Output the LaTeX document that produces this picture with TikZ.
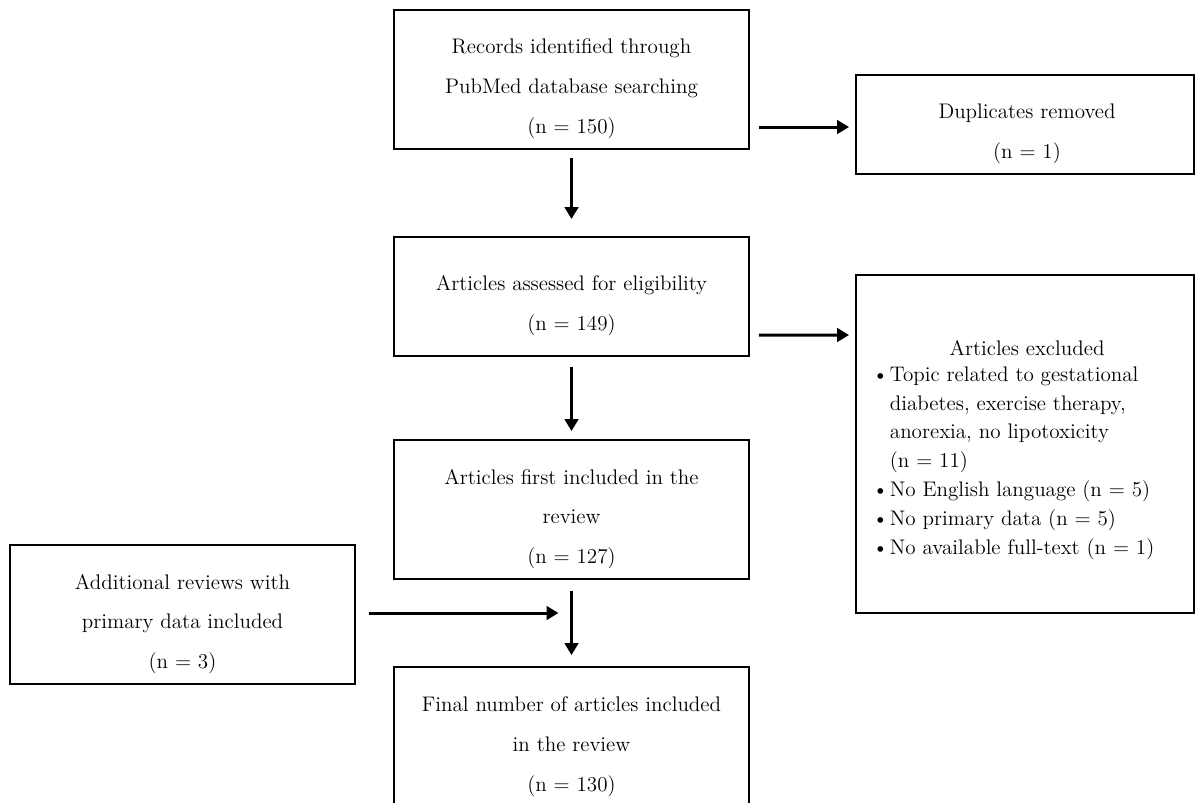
\documentclass[tikz,border=0pt]{standalone}
\usetikzlibrary{arrows.meta,calc}
\begin{document}
\begin{tikzpicture}[x=0.02cm,y=-0.02cm,
  box/.style={draw, line width=1.1pt, inner sep=0pt, minimum width=7.1cm, minimum height=2.78cm},
  txt/.style={align=center, font=\fontsize{12}{22.7}\selectfont, inner sep=0pt},
  arr/.style={line width=1.7pt, -{Triangle[length=0.24cm,width=0.27cm]}}]
\useasboundingbox (0,0) rectangle (1195,802);
\clip (0,0) rectangle (1195,802);
% boxes
\node[box] (b1) at (571.5,79.5) {};
\node[box, minimum width=6.76cm, minimum height=1.98cm] (dup) at (1025,124.5) {};
\node[box, minimum height=2.38cm] (b2) at (571.5,296.5) {};
\node[box, minimum width=6.76cm, minimum height=6.76cm] (excl) at (1025,444) {};
\node[box] (b3) at (571.5,509.5) {};
\node[box, minimum width=6.9cm] (add) at (182.5,614.5) {};
\node[box] (b4) at (571.5,736.5) {};
% texts
\node[txt] (t1) at (571.5,89) {Records identified through\\PubMed database searching\\(n = 150)};
\node[txt] (t2) at (1027,134) {Duplicates removed\\(n = 1)};
\node[txt] (t3) at (571.5,306) {Articles assessed for eligibility\\(n = 149)};
\node[txt] (t4) at (571.5,519) {Articles first included in the\\review\\(n = 127)};
\node[txt] (t5) at (182.5,624) {Additional reviews with\\primary data included\\(n = 3)};
\node[txt] (t6) at (571.5,747) {Final number of articles included\\in the review\\(n = 130)};
\node[txt] (t7) at (1027,348) {Articles excluded};
\node[align=left, inner sep=0pt, anchor=west, font=\fontsize{12}{16.4}\selectfont] (t8) at (872,463)
 {\makebox[10pt][l]{\textbullet}Topic related to gestational\\
  \hspace*{10pt}diabetes, exercise therapy,\\
  \hspace*{10pt}anorexia, no lipotoxicity\\
  \hspace*{10pt}(n = 11)\\
  \makebox[10pt][l]{\textbullet}No English language (n = 5)\\
  \makebox[10pt][l]{\textbullet}No primary data (n = 5)\\
  \makebox[10pt][l]{\textbullet}No available full-text (n = 1)};
% connectors
\coordinate (j) at (b3.south |- add.east);
\draw[arr] ($(b1.east |- dup.west)+(9,2.5)$) -- ($(dup.west)+(-6,2.5)$);
\draw[arr, shorten <=0.16cm, shorten >=0.34cm] (b1.south) -- (b2.north);
\draw[arr] ($(b2.east)+(9,38.5)$) -- ($(excl.west)+(-6,-109)$);
\draw[arr, shorten <=0.2cm, shorten >=0.16cm] (b2.south) -- (b3.north);
\draw[arr, shorten <=0.26cm, shorten >=0.26cm] ($(add.east)+(0,-1.5)$) -- ($(j)+(0,-1.5)$);
\draw[arr, shorten <=0.22cm, shorten >=0.22cm] (b3.south) -- (b4.north);
\end{tikzpicture}
\end{document}
